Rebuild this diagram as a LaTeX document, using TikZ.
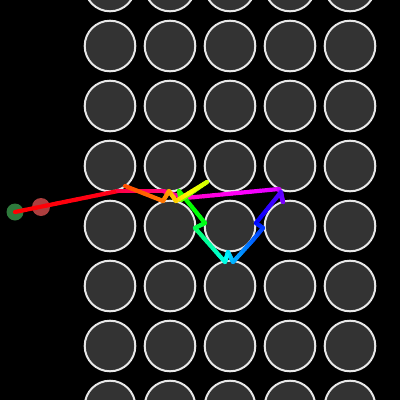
\documentclass[tikz,border=0pt]{standalone}
\usetikzlibrary{calc}
\definecolor{cellfill}{RGB}{51,51,51}
\definecolor{cellline}{RGB}{232,232,232}
\definecolor{startball}{RGB}{46,122,60}
\definecolor{endball}{RGB}{172,62,62}
\tikzset{
  cell/.style={circle,draw=cellline,fill=cellfill,line width=2pt,minimum size=50.6pt,inner sep=0pt,outer sep=0pt},
  ball/.style={circle,inner sep=0pt,outer sep=0pt,minimum size=17pt},
  traj/.style={line width=4.2pt,line cap=round,line join=round}
}
\newcommand\trajseg[4]{%
  \foreach \k in {1,...,10}{%
    \pgfmathsetmacro\ta{(\k-1)/10}%
    \pgfmathsetmacro\tb{\k/10}%
    \pgfmathsetmacro\hh{mod(#3+(#4-#3)*(\k-0.5)/10+720,360)}%
    \definecolor{segc}{Hsb}{\hh,1,1}%
    \draw[traj,segc] ($(#1)!\ta!(#2)$) -- ($(#1)!\tb!(#2)$);
  }}
\begin{document}
\begin{tikzpicture}[x=1pt,y=-1pt]
\useasboundingbox (0,0) rectangle (400,400);
\fill[black] (0,0) rectangle (400,400);
\begin{scope}
\clip (0,0) rectangle (400,400);
\foreach \i/\x in {1/110,2/170,3/230,4/290,5/350}{
  \foreach \j/\y in {0/-14,1/46,2/106,3/166,4/226,5/286,6/346,7/406}{
    \node[cell] (c\i\j) at (\x,\y) {};
  }
}
\end{scope}
\node[ball,fill=startball] (start) at (15,212) {};
\node[ball,fill=endball,minimum size=18pt] (redball) at (41,207) {};
% trajectory vertices
\coordinate (v0) at (15,212);
\coordinate (v1) at (118,191);
\coordinate (v2) at (163,191);
\coordinate (v3) at (185,198);
\coordinate (v4) at (279,189);
\coordinate (v5) at (283,202);
\coordinate (v6) at (281,192);
\coordinate (v7) at (256,223);
\coordinate (v8) at (263,228);
\coordinate (v9) at (253,240);
\coordinate (v10) at (233,262);
\coordinate (v11) at (228,252);
\coordinate (v12) at (225,262);
\coordinate (v13) at (195,228);
\coordinate (v14) at (205,223);
\coordinate (v15) at (179,191);
\coordinate (v16) at (181,200);
\coordinate (v17) at (207,182);
\coordinate (v18) at (176,201);
\coordinate (v19) at (169,191);
\coordinate (v20) at (163,201);
\coordinate (v21) at (125,186);
\trajseg{v0}{v1}{360}{354}
\trajseg{v1}{v2}{345}{332}
\trajseg{v2}{v3}{330}{318}
\trajseg{v3}{v4}{315}{292}
\trajseg{v4}{v5}{290}{270}
\trajseg{v5}{v6}{270}{262}
\trajseg{v6}{v7}{262}{240}
\trajseg{v7}{v8}{240}{228}
\trajseg{v8}{v9}{228}{218}
\trajseg{v9}{v10}{218}{200}
\trajseg{v10}{v11}{200}{188}
\trajseg{v11}{v12}{188}{178}
\trajseg{v12}{v13}{175}{145}
\trajseg{v13}{v14}{140}{128}
\trajseg{v14}{v15}{125}{115}
\trajseg{v15}{v16}{112}{105}
\trajseg{v16}{v17}{95}{75}
\trajseg{v17}{v18}{72}{52}
\trajseg{v18}{v19}{50}{42}
\trajseg{v19}{v20}{40}{30}
\trajseg{v20}{v21}{28}{18}
\end{tikzpicture}
\end{document}
